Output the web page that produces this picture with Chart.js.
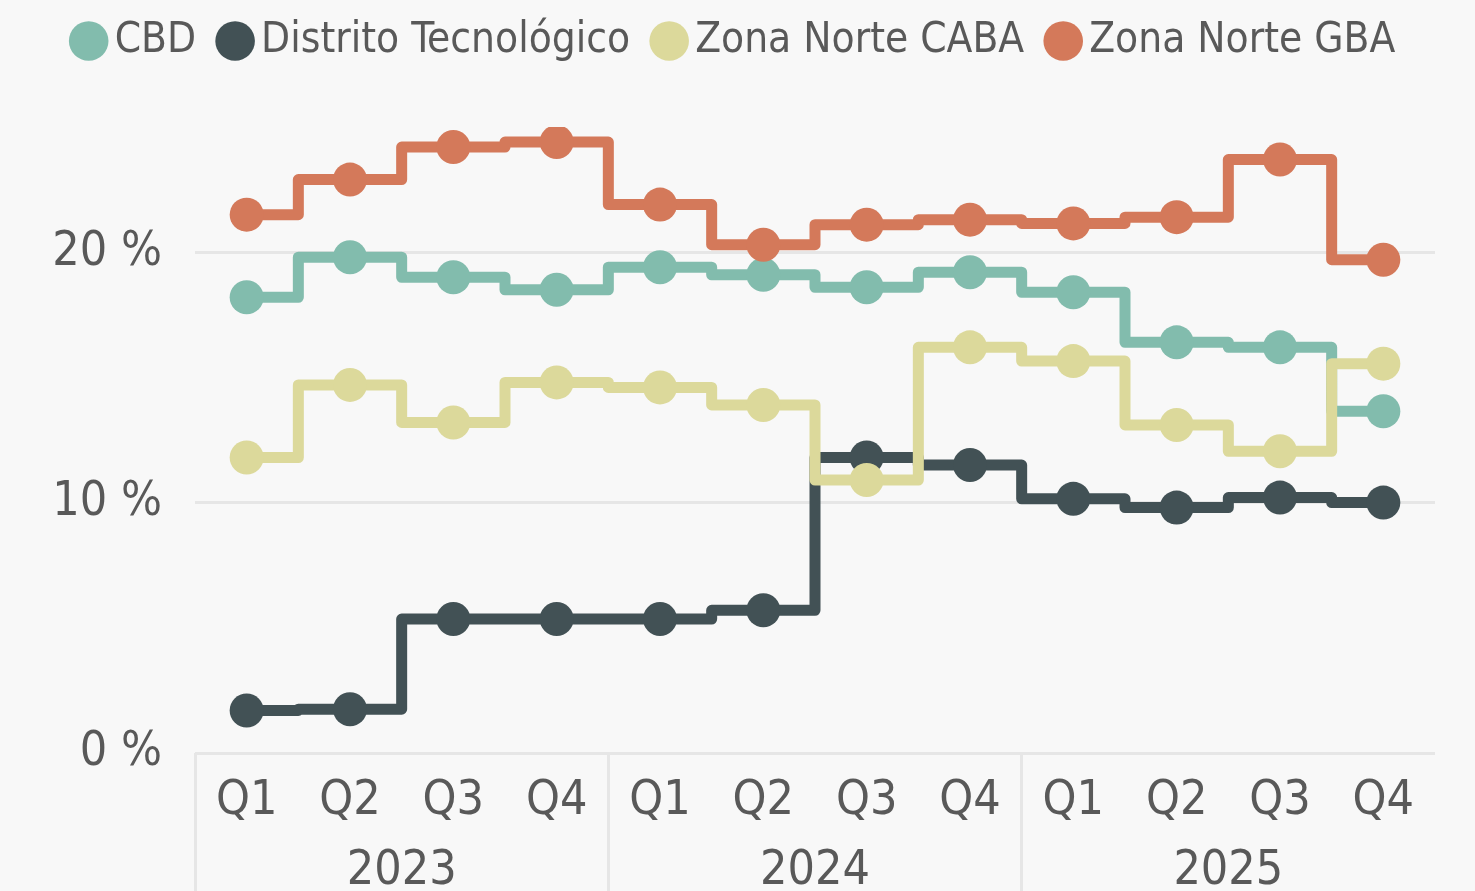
<!DOCTYPE html>
<html>
<head>
<meta charset="utf-8">
<script src="https://cdn.jsdelivr.net/npm/chart.js@4.4.1/dist/chart.umd.min.js"></script>
<style>
  html, body { margin: 0; padding: 0; background: #f8f8f8; }
  #wrap { width: 1475px; height: 891px; }
</style>
</head>
<body>
<div id="wrap"><canvas id="chart"></canvas></div>
<script>
// quarters repeated for each year, years shown on a second axis row
const quarters = ['Q1', 'Q2', 'Q3', 'Q4', 'Q1', 'Q2', 'Q3', 'Q4', 'Q1', 'Q2', 'Q3', 'Q4'];
const years = ['2023', '2024', '2025'];

// vacancy rate (%) per submarket
const cbd = [18.2, 19.8, 19.0, 18.5, 19.4, 19.1, 18.6, 19.2, 18.4, 16.4, 16.2, 13.65];
const distritoTecnologico = [1.7, 1.75, 5.35, 5.35, 5.35, 5.7, 11.8, 11.5, 10.15, 9.8, 10.2, 10.0];
const zonaNorteCaba = [11.8, 14.7, 13.2, 14.8, 14.6, 13.9, 10.9, 16.2, 15.65, 13.1, 12.05, 15.55];
const zonaNorteGba = [21.5, 22.9, 24.2, 24.4, 21.9, 20.3, 21.1, 21.3, 21.15, 21.4, 23.7, 19.7];

const yTicks = [0, 10, 20];

const textColor = '#595959';
const gridColor = '#e6e6e6';

Chart.defaults.font.family = "'DejaVu Sans Condensed', 'DejaVu Sans', sans-serif";
Chart.defaults.color = textColor;

function stepSeries(label, data, color, order) {
    return {
        label: label,
        data: data,
        borderColor: color,
        backgroundColor: color,
        pointBackgroundColor: color,
        pointBorderWidth: 0,
        pointRadius: 17,
        pointHoverRadius: 17,
        borderWidth: 11,
        stepped: 'middle',
        borderJoinStyle: 'round',
        borderCapStyle: 'round',
        order: order
    };
}

// extra space between the legend and the plot
const legendSpacer = {
    id: 'legendSpacer',
    beforeInit(chart) {
        const fit = chart.legend.fit;
        chart.legend.fit = function () {
            fit.call(this);
            this.height += 55;
        };
    }
};

const ctx = document.getElementById('chart').getContext('2d');

new Chart(ctx, {
    type: 'line',
    data: {
        labels: quarters,
        datasets: [
            stepSeries('CBD', cbd, '#82bcad', 4),
            stepSeries('Distrito Tecnológico', distritoTecnologico, '#425155', 3),
            stepSeries('Zona Norte CABA', zonaNorteCaba, '#dcd99b', 2),
            stepSeries('Zona Norte GBA', zonaNorteGba, '#d4795a', 1)
        ]
    },
    options: {
        responsive: true,
        maintainAspectRatio: false,
        animation: false,
        layout: {
            padding: { top: -14, right: 40, bottom: 0, left: 44 }
        },
        plugins: {
            legend: {
                position: 'top',
                labels: {
                    usePointStyle: true,
                    pointStyle: 'circle',
                    boxWidth: 10,
                    boxHeight: 28,
                    padding: 34,
                    font: { size: 42 },
                    color: textColor,
                    sort: (a, b) => a.datasetIndex - b.datasetIndex
                }
            },
            tooltip: { enabled: false }
        },
        scales: {
            x: {
                type: 'category',
                offset: true,
                weight: 0,
                afterFit: function (scale) {
                    scale.height = 72;
                },
                grid: {
                    offset: true,
                    drawOnChartArea: false,
                    drawTicks: true,
                    tickLength: 138,
                    lineWidth: 3,
                    color: function (c) {
                        return (c.index !== undefined && c.index % 4 === 0) ? gridColor : 'rgba(0,0,0,0)';
                    }
                },
                border: { display: false },
                ticks: {
                    padding: -116,
                    maxRotation: 0,
                    autoSkip: false,
                    font: { size: 48, lineHeight: 1.1 },
                    color: textColor
                }
            },
            x2: {
                type: 'category',
                labels: years,
                position: 'bottom',
                offset: true,
                weight: 1,
                afterFit: function (scale) {
                    scale.height = 66;
                },
                grid: { display: false },
                border: { display: false },
                ticks: {
                    padding: 12,
                    maxRotation: 0,
                    font: { size: 48, lineHeight: 1.1 },
                    color: textColor
                }
            },
            y: {
                min: 0,
                max: 25,
                afterFit: function (scale) {
                    scale.width = 151;
                },
                afterBuildTicks: function (scale) {
                    scale.ticks = yTicks.map(v => ({ value: v }));
                },
                grid: {
                    color: gridColor,
                    lineWidth: 3,
                    drawTicks: false
                },
                border: { display: false },
                ticks: {
                    padding: 33,
                    font: { size: 48 },
                    color: textColor,
                    callback: v => v + ' %'
                }
            }
        }
    },
    plugins: [legendSpacer]
});
</script>
</body>
</html>
